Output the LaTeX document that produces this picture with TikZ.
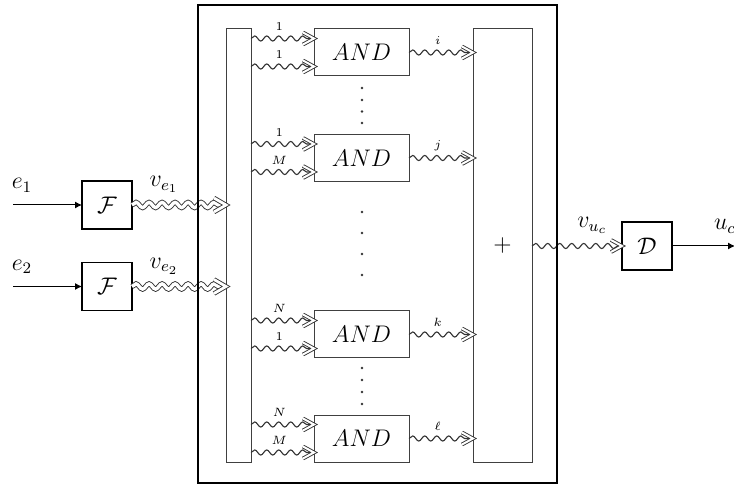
\documentclass[tikz,border=0pt]{standalone}
\usetikzlibrary{decorations.pathmorphing,arrows.meta,calc}
\tikzset{
  big/.style={font=\fontsize{12}{14}\selectfont, inner sep=1pt},
  tlbl/.style={font=\fontsize{6}{7}\selectfont, inner sep=0pt},
  thickbox/.style={draw=black, line width=0.9pt, inner sep=0pt, outer sep=0pt, fill=none},
  thinbox/.style={draw=black!75, line width=0.5pt, inner sep=0pt, outer sep=0pt},
  andbox/.style={thinbox, minimum width=47.5pt, minimum height=23.5pt, font=\fontsize{12.5}{14}\selectfont},
  wavy/.style={draw=black!80, line width=0.55pt, decorate,
    decoration={snake, amplitude=1.3pt, segment length=6pt, post length=2pt}},
  dwavy/.style={draw=black!80, line width=0.45pt, double=white, double distance=1.7pt, decorate,
    decoration={snake, amplitude=1.3pt, segment length=6.5pt, post length=3pt}},
  chev/.style={draw=black!80, line width=0.45pt, double=white, double distance=1pt, line join=miter},
  bigchev/.style={draw=black!80, line width=0.45pt, double=white, double distance=1.4pt, line join=miter},
  inarrow/.style={draw=black, line width=0.5pt, -{Latex[length=3.5pt,width=3.5pt]}},
  dotmark/.style={fill=black!80, draw=none, circle, inner sep=0pt, minimum size=1.3pt},
}
\newcommand\wtip[1]{\draw[chev] ($(#1)+(-11,-6)$) -- (#1) -- ($(#1)+(-11,6)$);}
\newcommand\wbigtip[1]{\draw[bigchev] ($(#1)+(-12,-7)$) -- (#1) -- ($(#1)+(-12,7)$);}
\begin{document}
\begin{tikzpicture}[x=0.5pt,y=-0.5pt]
\useasboundingbox (0,0) rectangle (734,486);

% bars
\node[thinbox, minimum width=12.5pt, minimum height=216.5pt] (lb) at (238.5,245.5) {};
\node[thinbox, minimum width=29.5pt, minimum height=216.5pt, font=\fontsize{12}{14}\selectfont] (rb) at (502.5,245.5) {$+$};

% AND gates
\node[andbox] (a1) at (361.5,52.5) {$AND$};
\node[andbox] (a2) at (361.5,158) {$AND$};
\node[andbox] (a3) at (361.5,334.5) {$AND$};
\node[andbox] (a4) at (361.5,438.5) {$AND$};

% F and D boxes
\node[thickbox, minimum width=25pt, minimum height=24pt, font=\fontsize{12}{14}\selectfont] (F1) at (107,205) {$\mathcal{F}$};
\node[thickbox, minimum width=25pt, minimum height=24pt, font=\fontsize{12}{14}\selectfont] (F2) at (107,286.5) {$\mathcal{F}$};
\node[thickbox, minimum width=25pt, minimum height=24pt, font=\fontsize{12}{14}\selectfont] (D) at (647,246) {$\mathcal{D}$};

% dots
\foreach \y [count=\i] in {88,100,111.5,123} \node[dotmark] (dt\i) at (362,\y) {};
\foreach \y [count=\i] in {212,233,254,275} \node[dotmark] (dm\i) at (362,\y) {};
\foreach \y [count=\i] in {368,380,392,404} \node[dotmark] (db\i) at (362,\y) {};

% inputs to AND gates
\foreach \g/\la/\lb in {a1/1/1, a2/1/M, a3/N/1, a4/N/M}{
  \coordinate (\g u) at ($(\g.west)+(0,-14)$);
  \coordinate (\g d) at ($(\g.west)+(0,14)$);
  \draw[wavy] (lb.east |- \g u) -- node[tlbl, above=3.5pt, pos=0.45]{$\la$} (\g u);
  \wtip{\g u}
  \draw[wavy] (lb.east |- \g d) -- node[tlbl, above=3.5pt, pos=0.45]{$\lb$} (\g d);
  \wtip{\g d}
}

% outputs of AND gates
\foreach \g/\lo in {a1/i, a2/j, a3/k, a4/\ell}{
  \coordinate (\g o) at (rb.west |- \g.east);
  \draw[wavy] (\g.east) -- node[tlbl, above=3.5pt, pos=0.45]{$\lo$} (\g o);
  \wtip{\g o}
}

% left inputs
\coordinate (in1) at (13,205);
\coordinate (in2) at (13,286.5);
\draw[inarrow] (in1) -- node[big, above=5pt, pos=0.13]{$e_1$} (F1.west);
\draw[inarrow] (in2) -- node[big, above=5pt, pos=0.13]{$e_2$} (F2.west);

\coordinate (t1) at (lb.west |- F1.east);
\coordinate (t2) at (lb.west |- F2.east);
\draw[dwavy] (F1.east) -- node[big, above=5pt, pos=0.34]{$v_{e_1}$} (t1);
\wbigtip{t1}
\draw[dwavy] (F2.east) -- node[big, above=5pt, pos=0.34]{$v_{e_2}$} (t2);
\wbigtip{t2}

% right side
\coordinate (rs) at (rb.east |- D.west);
\draw[wavy] (rs) -- node[big, above=5pt, pos=0.67]{$v_{u_c}$} (D.west);
\wtip{D.west}
\coordinate (out) at (735,246);
\draw[inarrow] (D.east) -- node[big, above=5pt, pos=0.84]{$u_c$} (out);

% outer box
\node[thickbox, minimum width=179.5pt, minimum height=239pt] (outer) at (377.5,244) {};
\end{tikzpicture}
\end{document}
